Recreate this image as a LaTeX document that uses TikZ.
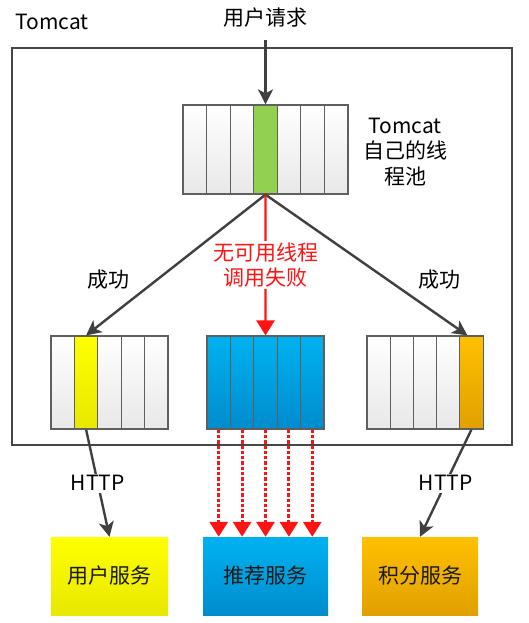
\documentclass[tikz,border=0pt]{standalone}
\usepackage{fontspec}
\setmainfont{Noto Sans CJK SC}
\usetikzlibrary{arrows.meta}

\definecolor{framegray}{RGB}{70,70,70}
\definecolor{cellline}{RGB}{95,95,95}
\definecolor{arrowgray}{RGB}{64,64,64}
\definecolor{poolgreen}{RGB}{146,208,80}
\definecolor{failred}{RGB}{255,20,20}

\begin{document}
\begin{tikzpicture}[x=1pt,y=-1pt,
  font=\fontsize{21}{25.5}\selectfont,
  cell/.style = {draw=cellline, line width=1.2pt, inner sep=0pt,
                 minimum width=23.4pt, minimum height=93pt},
  blank/.style = {top color=white, bottom color=black!9},
  greencell/.style = {fill=poolgreen},
  yellowcell/.style = {top color={rgb,255:red,255;green,255;blue,0}, bottom color={rgb,255:red,232;green,232;blue,0}},
  bluecell/.style = {top color={rgb,255:red,0;green,178;blue,240}, bottom color={rgb,255:red,0;green,140;blue,205}},
  orangecell/.style = {top color={rgb,255:red,255;green,192;blue,0}, bottom color={rgb,255:red,225;green,160;blue,0}},
  svc/.style = {inner sep=0pt, minimum width=117pt, minimum height=78pt, text={rgb,255:red,25;green,25;blue,25}},
  grayarrow/.style = {draw=arrowgray, line width=2.4pt, -{Stealth[length=15pt, width=15pt, inset=4pt]}},
  redarrow/.style = {draw=failred, line width=2.4pt, -{Triangle[length=15pt, width=18pt]}},
  reddash/.style = {redarrow, line width=3pt, dash pattern=on 3.3pt off 2pt},
  cut/.style = {fill=white, inner sep=2pt}]
\useasboundingbox (0,0) rectangle (529,623);

\node[draw=framegray, line width=1.1pt, minimum width=500pt, minimum height=397pt] (tomcat) at (262,246.5) {};
\node[anchor=west] (tomcatLabel) at (12,22) {Tomcat};

% thread pools
\foreach \s [count=\i from 0] in {blank,blank,blank,greencell,blank,blank,blank}
  \node[cell, \s, minimum width=23.6pt, minimum height=89pt] (t\i) at ({194.8+23.57*\i},149.5) {};
\foreach \s [count=\i from 0] in {blank,yellowcell,blank,blank,blank}
  \node[cell, \s] (l\i) at ({62.7+23.4*\i},382.5) {};
\foreach \i in {0,...,4}
  \node[cell, bluecell] (m\i) at ({218.7+23.4*\i},382.5) {};
\foreach \s [count=\i from 0] in {blank,blank,blank,blank,orangecell}
  \node[cell, \s] (r\i) at ({378.6+23.2*\i},382.5) {};

\node[align=center] (poolLabel) at (405,152) {Tomcat\\自己的线\\程池};

% services
\node[svc, yellowcell] (userSvc) at (109.5,576) {用户服务};
\node[svc, bluecell, minimum width=125pt] (recSvc) at (265.5,576) {推荐服务};
\node[svc, orangecell, minimum width=116pt] (pointSvc) at (420,576) {积分服务};

\node (req) at (265.5,18) {用户请求};
\draw[grayarrow] (t3.north |- 0,40) -- (t3.north);

\draw[grayarrow] (t3.south) -- (l1.north);
\draw[grayarrow] (t3.south) -- ([xshift=-4pt]r4.north);
\node (okLeft) at (108,280) {成功};
\node (okRight) at (439,280) {成功};

\draw[redarrow] (t3.south) -- node[cut, text=failred, align=center] {无可用线程\\调用失败} (m2.north);

\draw[grayarrow] (l1.south) -- node[cut] {HTTP} (userSvc.north);
\draw[grayarrow] (r4.south) -- node[cut] {HTTP} (pointSvc.north);

\foreach \i in {0,...,4}
  \draw[reddash] (m\i.south) -- (m\i.south |- recSvc.north);
\end{tikzpicture}
\end{document}
